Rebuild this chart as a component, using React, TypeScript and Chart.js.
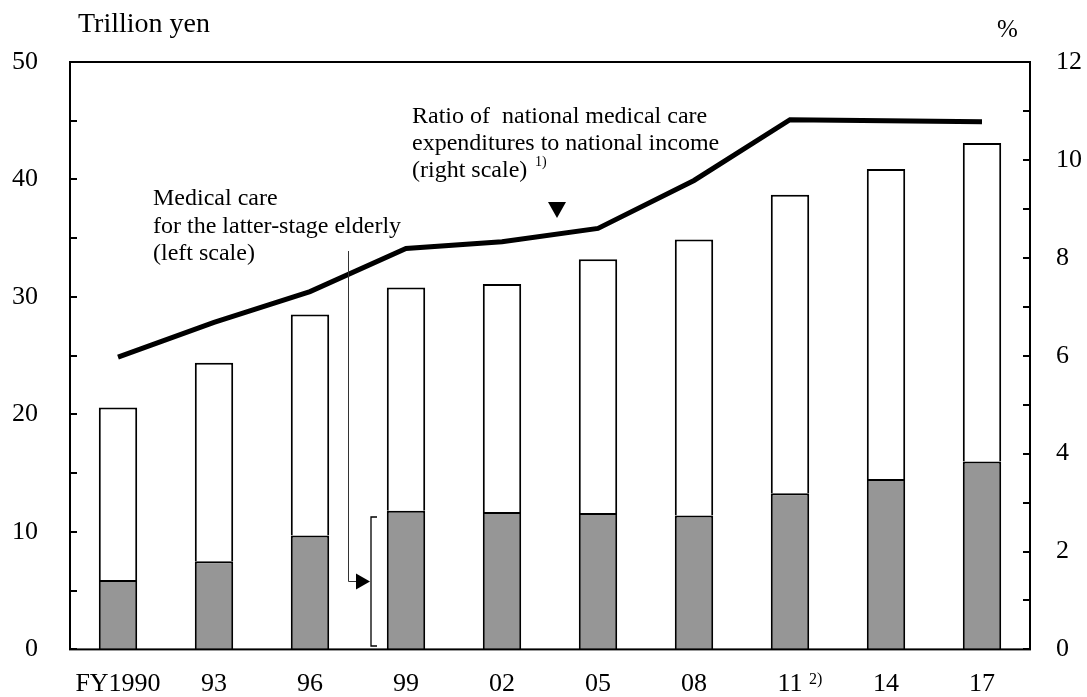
import React, { useEffect, useRef } from "react";
import { Chart, registerables } from "chart.js";

Chart.register(...registerables);

const categories = ["FY1990", "93", "96", "99", "02", "05", "08", "11", "14", "17"];
const totalExpenditure = [20.6, 24.4, 28.5, 30.8, 31.1, 33.2, 34.9, 38.7, 40.9, 43.1];
const elderlyCare = [5.9, 7.5, 9.7, 11.8, 11.7, 11.6, 11.4, 13.3, 14.5, 16.0];
const ratioToIncome = [5.97, 6.68, 7.31, 8.19, 8.33, 8.6, 9.58, 10.82, 10.8, 10.78];
const leftTicks = [0, 10, 20, 30, 40, 50];
const rightTicks = [0, 2, 4, 6, 8, 10, 12];

const FONT = '"Liberation Serif", "Times New Roman", serif';

const decorPlugin = {
  id: "decor",
  afterDraw(chart: any) {
    const { ctx, chartArea } = chart;
    const y = chart.scales.y;
    const y1 = chart.scales.y1;
    const x = chart.scales.x;
    ctx.save();
    // frame
    ctx.strokeStyle = "#000";
    ctx.lineWidth = 2;
    ctx.strokeRect(chartArea.left, chartArea.top, chartArea.right - chartArea.left, chartArea.bottom - chartArea.top);
    // left ticks (inward) every 5
    for (let v = 0; v <= 50; v += 5) {
      const py = Math.round(y.getPixelForValue(v));
      ctx.beginPath();
      ctx.moveTo(chartArea.left, py);
      ctx.lineTo(chartArea.left + 7, py);
      ctx.stroke();
    }
    for (let v = 0; v <= 12; v += 1) {
      const py = Math.round(y1.getPixelForValue(v));
      ctx.beginPath();
      ctx.moveTo(chartArea.right, py);
      ctx.lineTo(chartArea.right - 7, py);
      ctx.stroke();
    }
    // axis titles
    ctx.fillStyle = "#000";
    ctx.textBaseline = "alphabetic";
    ctx.textAlign = "left";
    ctx.font = `28px ${FONT}`;
    ctx.fillText("Trillion yen", 78, 32);
    ctx.font = `25px ${FONT}`;
    ctx.fillText("%", 997, 37);

    // annotations
    ctx.font = `24px ${FONT}`;
    ctx.fillText("Medical care", 153, 205);
    ctx.fillText("for the latter-stage elderly", 153, 233);
    ctx.fillText("(left scale)", 153, 260);
    ctx.fillText("Ratio of  national medical care", 412, 123);
    ctx.fillText("expenditures to national income", 412, 150);
    ctx.fillText("(right scale)", 412, 177);
    ctx.font = `14px ${FONT}`;
    ctx.fillText("1)", 535, 166);
    // superscript 2) next to "11"
    ctx.font = `16px ${FONT}`;
    ctx.fillText("2)", x.getPixelForValue(7) + 19, 684);

    // down triangle marker
    ctx.beginPath();
    ctx.moveTo(548, 202);
    ctx.lineTo(566, 202);
    ctx.lineTo(557, 218);
    ctx.closePath();
    ctx.fill();

    // leader line for elderly
    ctx.strokeStyle = "#333";
    ctx.lineWidth = 1;
    ctx.beginPath();
    ctx.moveTo(348.5, 251);
    ctx.lineTo(348.5, 581.5);
    ctx.lineTo(357, 581.5);
    ctx.stroke();
    ctx.fillStyle = "#000";
    ctx.beginPath();
    ctx.moveTo(356, 573.5);
    ctx.lineTo(370, 581.5);
    ctx.lineTo(356, 589.5);
    ctx.closePath();
    ctx.fill();
    // bracket
    ctx.strokeStyle = "#000";
    ctx.lineWidth = 1.3;
    ctx.beginPath();
    ctx.moveTo(377, 517);
    ctx.lineTo(371, 517);
    ctx.lineTo(371, 646);
    ctx.lineTo(377, 646);
    ctx.stroke();
    ctx.restore();
  },
};

export default function App() {
  const ref = useRef<HTMLCanvasElement>(null);
  useEffect(() => {
    const others = totalExpenditure.map((t, i) => +(t - elderlyCare[i]).toFixed(2));
    const chart = new Chart(ref.current as HTMLCanvasElement, {
      type: "bar",
      data: {
        labels: categories,
        datasets: [
          {
            type: "line",
            label: "Ratio",
            data: ratioToIncome,
            yAxisID: "y1",
            borderColor: "#000",
            borderWidth: 5,
            pointRadius: 0,
            tension: 0,
            fill: false,
            order: 0,
          } as any,
          {
            label: "Elderly",
            data: elderlyCare,
            backgroundColor: "#969696",
            borderColor: "#000",
            borderWidth: 2,
            borderSkipped: "bottom",
            yAxisID: "y",
            stack: "s",
            order: 1,
          },
          {
            label: "Others",
            data: others,
            backgroundColor: "#ffffff",
            borderColor: "#000",
            borderWidth: 2,
            borderSkipped: "bottom",
            yAxisID: "y",
            stack: "s",
            order: 2,
          },
        ],
      },
      options: {
        responsive: false,
        animation: false,
        layout: { padding: { top: 62, left: 0, right: 0, bottom: 0 } },
        plugins: { legend: { display: false }, tooltip: { enabled: false } },
        datasets: { bar: { categoryPercentage: 0.8, barPercentage: 0.5 } },
        scales: {
          x: {
            stacked: true,
            grid: { display: false, drawTicks: false },
            border: { display: false },
            ticks: { color: "#000", font: { family: FONT, size: 26 }, padding: 19, maxRotation: 0, autoSkip: false },
            afterFit: (s: any) => { s.height = 46; },
          },
          y: {
            stacked: true,
            position: "left",
            min: 0,
            max: 50,
            afterBuildTicks: (s: any) => { s.ticks = leftTicks.map((v) => ({ value: v })); },
            grid: { display: false, drawTicks: false },
            border: { display: false },
            ticks: { color: "#000", font: { family: FONT, size: 26 }, padding: 32 },
            afterFit: (s: any) => { s.width = 70; },
          },
          y1: {
            position: "right",
            min: 0,
            max: 12,
            afterBuildTicks: (s: any) => { s.ticks = rightTicks.map((v) => ({ value: v })); },
            grid: { display: false, drawTicks: false },
            border: { display: false },
            ticks: { color: "#000", font: { family: FONT, size: 26 }, padding: 26 },
            afterFit: (s: any) => { s.width = 57; },
          },
        },
      },
      plugins: [decorPlugin],
    });
    return () => chart.destroy();
  }, []);
  return (
    <div style={{ position: "fixed", left: 0, top: 0, width: 1087, height: 697, background: "#fff" }}>
      <canvas ref={ref} width={1087} height={697} />
    </div>
  );
}
